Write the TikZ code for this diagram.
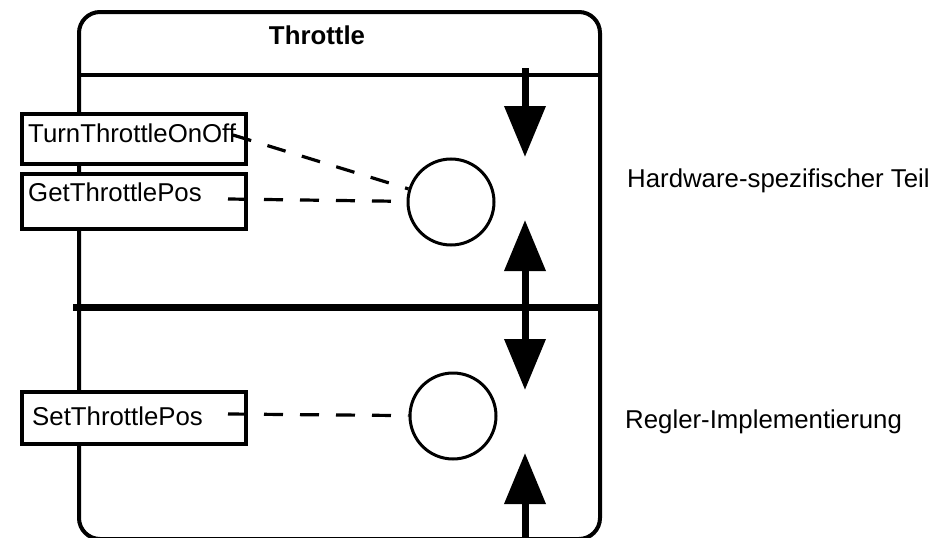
\documentclass[tikz,border=0pt]{standalone}
\usepackage{fontspec}
\setsansfont{Liberation Sans}
\usetikzlibrary{arrows.meta}

\newcommand{\labelsize}{\fontsize{25.8}{30}\selectfont}

\begin{document}
\begin{tikzpicture}[
    x=1pt, y=-1pt,
    font=\sffamily\labelsize,
    opbox/.style={draw, line width=3.5pt, fill=white, minimum width=224pt, inner sep=0pt, anchor=north west},
    optext/.style={anchor=base west, inner sep=0pt},
    port/.style={draw, circle, line width=3pt, minimum size=86pt, inner sep=0pt},
    link/.style={line width=3.2pt, dash pattern=on 19pt off 17pt},
    flow/.style={line width=7pt, -{Triangle[width=40pt,length=51pt]}},
    flowboth/.style={line width=7pt, {Triangle[width=40pt,length=51pt]}-{Triangle[width=40pt,length=51pt]}}
]

\useasboundingbox (0,0) rectangle (935,538);

% Component frame with title
\draw[line width=4pt, rounded corners=21pt] (79,12) rectangle (600,539);
\draw[line width=3.5pt] (79,75) -- (600,75);
\node[anchor=base, inner sep=0pt, font=\sffamily\bfseries\labelsize] (title) at (317,45) {Throttle};

% Separator between the two layers
\draw[line width=7pt] (73,307) -- (600,307);

% Operations (boxes over the left edge)
\node[opbox, minimum height=50pt] (turnbox) at (20,112) {};
\node[optext] (turntext) at (28,142) {TurnThrottleOnOff};

\node[opbox, minimum height=55pt] (getbox) at (20,172) {};
\node[optext] (gettext) at (28,201) {GetThrottlePos};

\node[opbox, minimum height=52pt] (setbox) at (20,390) {};
\node[optext] (settext) at (32,425) {SetThrottlePos};

% Ports
\node[port] (hwport) at (451,202) {};
\node[port] (ctlport) at (453,416) {};

% Dashed links from operations to ports
\coordinate (turnout) at (233,135);
\coordinate (getout) at (228,199);
\coordinate (setout) at (228,414);
\draw[link] (turnout) -- (hwport);
\draw[link] (getout) -- (hwport);
\draw[link] (setout) -- (ctlport);

% Flow arrows
\coordinate (topin) at (525,68);
\coordinate (toptip) at (525,157);
\coordinate (midup) at (525,220);
\coordinate (middown) at (525,390);
\coordinate (lowin) at (525,545);
\coordinate (lowtip) at (525,453);
\draw[flow] (topin) -- (toptip);
\draw[flowboth] (midup) -- (middown);
\draw[flow] (lowin) -- (lowtip);

% Layer labels
\node[optext] (hwlabel) at (627,187) {Hardware-spezifischer Teil};
\node[optext] (ctllabel) at (625,428) {Regler-Implementierung};

\end{tikzpicture}
\end{document}
